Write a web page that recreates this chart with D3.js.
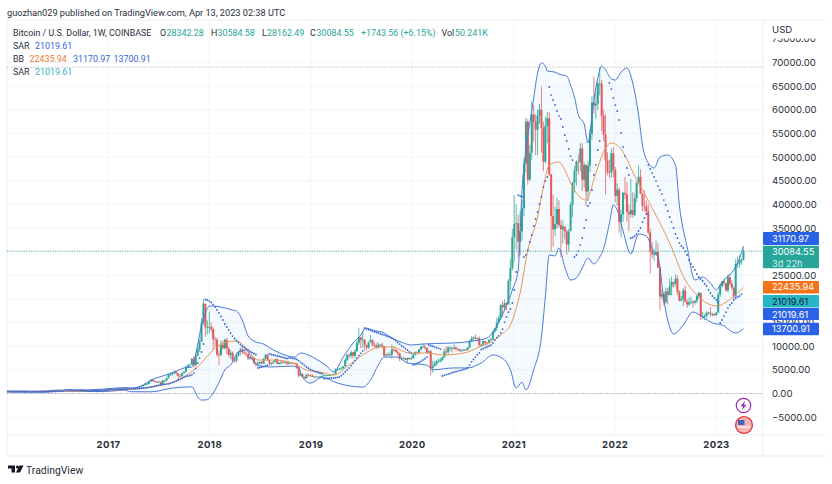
<!DOCTYPE html>
<html>
<head>
<meta charset="utf-8">
<script src="https://cdn.jsdelivr.net/npm/d3@7"></script>
<style>
    html, body { margin: 0; padding: 0; background: #fff; }
    text { font-family: Inter, "Noto Sans", sans-serif; }
    .narrow { font-family: Roboto, "Noto Sans", sans-serif; }
</style>
</head>
<body>
<div id="chart"></div>
<script>
// Weekly candles, values. 2016 wicks are too small to see.
var yearStarts = ["2016-01-04", "2017-01-02", "2018-01-01", "2019-01-07", "2020-01-06", "2021-01-04", "2022-01-03", "2023-01-02"];

var close2016 = [448,382,403,376,375,405,436,430,410,415,413,416,417,419,420,428,445,455,458,445,445,525,575,680,665,640,665,650,665,655,575,585,575,570,605,605,610,608,612,640,635,655,700,705,705,750,735,775,775,790,900,960];
var close2017 = [908,820,920,920,1020,1000,1050,1180,1270,1230,1020,970,1080,1190,1180,1240,1350,1550,1800,2050,2050,2550,2950,2600,2550,2500,2500,1950,2750,2750,3250,4050,4050,4350,4600,4200,3700,3650,4300,4600,5650,6000,6150,7350,5950,8000,9300,11000,15000,19000,14000,14000];
var high2017 = [1020,920,960,930,1030,1060,1060,1200,1290,1330,1250,1070,1090,1210,1210,1270,1360,1620,1830,2140,2260,2700,2990,2980,2800,2620,2650,2420,2850,2900,3350,4200,4400,4400,4980,4680,4350,4100,4390,4700,5850,6200,6250,7450,7880,8300,9800,11400,16000,19890,17500,15500];
var low2017 = [750,760,870,890,910,960,980,1040,1130,980,930,890,920,1050,1110,1180,1240,1340,1500,1700,1830,2000,2450,2500,2300,2250,2300,1750,1950,2400,2600,3200,3700,3800,4100,3950,2950,3400,3660,4200,4500,5400,5400,6050,5500,5900,7900,8800,10900,14500,12000,12500];
var close2018 = [14100,13600,11500,11400,8200,8100,10300,9600,11400,9500,8200,8600,7000,6900,8000,8800,9300,8700,8500,8300,7400,7700,7500,6400,6100,6350,6700,6350,7400,8200,7000,6300,6400,6700,7250,6250,6500,6700,6600,6600,6300,6500,6450,6400,6350,5600,3800,4100,3500,3200,3950,3850,3800];
var high2018 = [17250,15000,14000,12000,11800,9000,11300,11100,11500,11700,9900,9200,8900,7500,8200,8900,9750,9900,9400,8900,8400,7800,7800,7750,6700,6800,6800,6800,7500,8400,8300,7100,6600,7000,7400,7400,6600,6850,6850,6700,6650,6800,6600,6530,6550,6450,5650,4400,4250,3600,4200,4250,4050];
var low2018 = [12750,13000,9200,9900,7800,6000,8000,9300,9250,8300,7700,7300,6600,6500,6600,7800,8100,8300,8300,7900,7100,7050,7100,6150,5750,5800,6200,6050,6300,7300,6900,5900,5900,6300,6650,6200,6100,6100,6350,6350,6100,6200,6350,6300,6300,5200,3400,3650,3400,3100,3150,3600,3550];
var close2019 = [3500,3550,3550,3450,3650,3650,3850,3850,3900,3950,4000,4100,5050,5050,5300,5300,5750,7100,8200,8000,8700,8000,8900,10700,11900,11300,11400,10300,9700,10800,11300,10300,10100,9600,10300,10300,10000,8000,8200,8300,8200,9300,9200,8800,8500,7300,7400,7500,7100,7500,7300,7400];
var high2019 = [4100,3700,3700,3600,3700,3750,4200,3900,3950,4000,4050,4150,5350,5350,5400,5650,5800,7450,8350,8400,9100,8800,9400,11200,13880,12000,13200,11100,10150,11000,12320,11500,10950,10650,10900,10450,10800,10050,8470,8650,8800,10350,9950,9500,9200,8600,7800,7850,7420,7600,7650,7850];
var low2019 = [3470,3400,3450,3400,3350,3550,3580,3700,3650,3730,3850,3900,4050,4900,5000,5050,5300,5600,6700,7400,7500,7450,7600,8900,10300,9600,9600,9100,9100,9350,10900,9950,9800,9350,9600,9850,9600,7700,7900,7850,7850,7350,8900,8650,8000,6800,7000,7200,7000,6400,7150,7150];
var close2020 = [8200,8700,8600,9300,9900,9900,9650,8600,8900,5350,5800,6250,6800,6850,7100,7700,8900,8750,9700,9700,9450,9700,9450,9350,9000,9050,9300,9200,9700,11100,11600,11850,11650,11700,10250,10300,11100,10750,10650,11300,11500,13100,13800,15000,15900,18700,18200,19100,18800,23800,26500,33000];
var high2020 = [8450,8900,8950,9400,9950,10500,10300,9700,9200,9200,6900,6950,7150,7450,7470,7780,9480,10050,9950,10000,9600,10400,9950,9580,9380,9400,9450,9400,9850,11400,12100,12100,12480,11850,12050,10500,11200,11050,10950,11500,11750,13230,13850,15950,16500,18900,19500,19900,19400,24250,28500,34800];
var low2020 = [7500,8000,8300,8250,9100,9700,9300,8450,8400,3850,4400,5700,5850,6500,6550,6800,7500,8100,8200,8900,8650,9350,9000,8900,8800,8900,9050,9050,9050,9650,10950,11150,11250,11100,9850,9850,10200,10150,10150,10550,11200,11350,12800,13200,14800,15500,16200,17600,17600,19000,21800,26000];
var close2021 = [35800,36000,32100,34300,39200,48600,57500,45200,50900,59000,57400,55800,58800,60000,56100,49000,56600,58200,46400,37500,34700,35800,39000,35600,34700,35300,34300,31500,34300,39900,44600,47000,49000,48900,51800,45200,48300,42700,48200,54900,61500,60900,61300,65500,65500,58700,54700,49300,46800,46700,50800,47300];
var high2021 = [41900,40000,37800,38500,40900,49700,58300,58000,52500,61700,61000,59000,60000,61200,64900,57500,58500,59500,59500,45800,42000,39500,41300,40900,36700,36600,35000,34700,34800,40500,44700,48100,49300,50500,52900,52900,48800,48500,49200,56000,62900,67000,63700,66000,69000,66300,60000,59000,51000,49500,51800,52100];
var low2021 = [27700,30400,28800,29200,32300,37500,46700,44100,44900,49300,53300,50400,50400,57000,50900,47000,48700,52900,46000,30000,31100,33300,34900,35100,28800,31700,32600,29300,30000,35800,37300,42500,43900,46300,47000,42800,43500,39600,40700,46900,53700,59200,58000,60000,63000,55500,53300,42000,46100,45500,45600,45700];
var close2022 = [41800,43100,36300,37900,42400,42100,38400,37900,38800,37800,41300,44500,45800,42200,39700,39500,38500,34000,30100,29400,29400,29900,26600,20500,21000,19300,21600,20800,22600,23600,23200,24300,21500,19600,20000,21800,19400,18800,19300,19400,19200,19600,20600,21300,16300,16300,16400,17100,17100,16800,16800,16550];
var high2022 = [47900,44400,43500,38900,42600,45800,44700,40000,45400,42600,42300,44900,48200,47400,42400,42900,40800,40000,34900,32000,30600,32400,31700,26900,22000,21500,22400,22300,24300,24700,23500,25200,25000,21800,20600,22300,22800,19900,20300,20500,19700,19700,21000,21500,21000,17200,16800,17400,17300,18300,17100,16950];
var low2022 = [40500,39700,34000,32900,36300,41100,36300,34300,37200,37200,37500,40500,44200,42200,38500,38500,37700,33700,25400,28600,28000,29300,26600,17600,19900,18600,19000,18900,20800,20700,22400,22600,20800,19500,19600,18500,19300,18100,18500,18900,18200,18800,19100,20000,15500,15800,15500,16000,16700,16300,16350,16300];
var close2023 = [17100,20900,22700,23750,23300,21800,24600,23200,22400,20500,27400,27500,28000,28342.28,30084.55];
var high2023 = [17200,21400,23350,23800,24250,23400,25200,25250,23900,22600,28400,28900,29200,28500,30584.58];
var low2023 = [16500,17300,20400,22500,22800,21500,21400,22800,21950,19600,24900,26600,26600,27200,28162.49];

// Bollinger bands, read at these week numbers (week 0 = 2016-01-04)
var upperWeeks = [0,15,20,26,35,50,58,64,70,74,80,86,91,95,98,100,102,104,106,110,116,118,119,121,124,127,132,137,143,148,151,155,159,165,168,173,178,183,184,190,193,198,204,208,213,220,230,240,247,250,253,256,260,263,265,267,269,271,273,275,277,278,282,284,288,290,292,294,297,299,300,302,304,306,308,311,313,316,319,322,325,327,330,333,336,340,344,346,350,354,358,362,365,367,370,374,377,379];
var upperValues = [500,470,560,720,700,950,1200,1160,1800,2850,3700,4540,5400,5600,10250,14480,17020,18500,18500,18290,17650,17440,17020,15540,12150,11100,10440,9200,8140,7700,8560,8140,7290,5600,4550,7720,10680,13000,13850,13210,13000,11730,10680,10250,10440,10570,10680,11100,11730,13000,15100,17650,21880,26110,43020,51480,57180,62470,67740,69870,69230,68170,67950,67530,67110,65200,62680,58870,56970,52960,55280,62050,66700,69230,68390,66490,66280,67950,68800,65640,58870,52530,48720,47670,49990,50410,48300,39850,30970,23990,24630,23360,21880,22940,24420,26110,28640,31170.97];
var lowerWeeks = [0,20,26,35,50,60,64,74,85,95,98,100,103,105,109,112,115,119,123,126,129,136,146,150,152,156,162,170,176,183,187,191,194,201,206,216,219,230,237,244,250,256,259,262,265,267,271,275,277,279,282,284,287,290,293,296,299,302,305,307,310,312,314,317,321,325,329,333,335,338,340,343,348,353,358,363,368,375,379];
var lowerValues = [300,300,500,450,400,700,380,350,1150,1400,-700,-1400,-1300,-500,2300,5000,6020,8800,9200,7300,5900,5600,5800,5400,3400,2200,3400,2200,1600,1350,2850,6000,7700,7700,6450,6000,5000,5400,5400,6450,8140,7100,5000,1150,2400,750,5000,12050,20400,29280,29070,30760,26740,23990,24420,26530,28640,27380,28860,30600,36000,39850,38800,34350,29500,33720,33300,29700,28860,19770,15540,12580,14480,17230,16170,14900,14480,12790,13700.91];
var basisWeeks = [0,30,50,63,80,90,99,106,113,118,123,129,137,147,154,161,168,176,183,192,198,207,216,224,235,243,254,259,264,268,273,276,279,284,287,291,298,303,308,311,317,322,329,336,341,349,355,365,373,379];
var basisValues = [430,500,650,900,1800,3280,6020,9200,10880,11100,9620,7080,7080,6450,4970,4550,3910,6020,8140,9830,9830,8560,8560,8140,8560,9830,12370,14480,21250,30340,37310,43650,48300,48930,47250,43650,40900,46610,51900,52960,51060,46820,41540,36040,31810,23990,20820,18500,20190,22435.94];

// Parabolic SAR runs: first week number, then one value per week
var sarRunStarts = [0,11,30,41,52,102,129,135,163,184,209,217,224,254,263,266,279,292,310,321,330,367];
var sarRuns = [
    [470,465,460,455,450,445,440,436,432,428,425],
    [370,372,375,378,382,385,388,390,395,400,405,410,420,430,440,450,470,500,540],
    [780,770,760,750,740,730,720,710,700,690,680],
    [560,565,570,575,585,595,605,620,640,680,720],
    [780,800,820,840,860,880,900,920,940,960,980,1000,1010,1020,1030,1040,1060,1090,1130,1170,1230,1300,1380,1460,1550,1650,1750,1850,1900,1950,2000,2050,2150,2300,2450,2650,2850,3050,3250,3450,3600,3700,3800,3950,4300,5300,6450,7500,8770,10460],
    [19870,19770,19550,19240,18810,18290,17650,17020,16280,15540,14690,14060,13420,12790,12150,11630,11200,10780,10360,10040,9720,9410,9200,8880,8670,8460,8240],
    [5400,5500,5600,5700,5810,6020],
    [8350,8250,8150,8050,7930,7830,7720,7620,7510,7400,7550,7500,7450,7350,7200,6950,6600,6300,5950,5600,5350,5100,4900,4750,4600,4450,4300,4200],
    [3150,3180,3200,3230,3260,3300,3340,3400,3500,3800,4150,4550,4970,5400,5900,6400,6950,7500,8000,8500,9000],
    [13800,13650,13500,13350,13200,13050,12950,12800,12650,12500,12350,12200,12050,11900,11700,11450,11150,10800,10450,10100,9800,9450,9150,8800,8500],
    [6050,6200,6400,6550,6800,7100,7350,7700],
    [10250,10100,10000,9850,9700,9550,9400],
    [3700,3850,4000,4100,4250,4400,4500,4650,4750,4850,4950,5100,5200,5400,6000,6700,7200,7700,8200,8600,9300,9500,9700,9850,10000,10250,10700,11300,11800,12200],
    [12800,13630,15100,16170,17200,17860,19130,21880,25690],
    [41960,41750,41550],
    [28860,29280,30340,32030,33510,35410,36890,38370,40060,41540,43650,44920,45770],
    [64800,63100,62050,61000,59720,58660,58030,56340,54650,53380,51690,50200,49360],
    [28860,29280,30120,31390,32870,34990,36680,39640,40270,43020,46190,48300,51480,53380],
    [65640,64370,62470,60980,59720,57820,55070,52110,50200,47670,46190],
    [32870,32980,33300,33720,34350,34990,36250,37100,37950],
    [48300,47460,46610,45770,44920,43860,43020,42170,40900,39850,38580,37310,36250,34990,33720,32870,31810,31180,30760,30120,29280,28220,27380,26740,26110,25260,24630,24200,23780,23150,22730,21880,21250,20610,20190,19770,19340],
    [14900,15540,16360,17200,18050,18710,19130,19770,20190,20400,20610,21019.61]
];

// 20000 and 30000 sit fully behind the price tags in the picture, so they are not listed
var gridTicks = [-5000,0,5000,10000,15000,20000,25000,30000,35000,40000,45000,50000,55000,60000,65000,70000];
var priceTicks = [-5000,0,5000,10000,15000,25000,35000,40000,45000,50000,55000,60000,65000,70000,75000];
var yearTicks = ["2017-01-01","2018-01-01","2019-01-01","2020-01-01","2021-01-01","2022-01-01","2023-01-01"];
var allTimeHigh = 69000;
var lastClose = 30084.55;

var tagLabels = ["31170.97", "30084.55", "22435.94", "21019.61", "21019.61", "13700.91"];
var tagValues = [31170.97, 30084.55, 22435.94, 21019.61, 21019.61, 13700.91];

var upColor = "#2aa596";
var downColor = "#e35a5a";
var bandColor = "#4a78d8";
var basisColor = "#ee9550";
var sarColor = "#3566d6";

function init() {

    var width = 832;
    var height = 484;
    var chartLeft = 7;
    var chartRight = 763;
    var chartTop = 21;
    var chartBottom = 435;
    var outerBottom = 456;

    var parse = d3.utcParse("%Y-%m-%d");
    var week0 = parse("2016-01-04");

    var x = d3.scaleUtc()
        .domain([parse("2017-01-01"), parse("2023-01-01")])
        .range([108, 716]);

    var y = d3.scaleLinear()
        .domain([0, 70000])
        .range([393.5, 62.4]);

    function weekX(w) {
        return x(d3.utcWeek.offset(week0, w));
    }

    // Build the candles year by year
    var closes = [close2016, close2017, close2018, close2019, close2020, close2021, close2022, close2023];
    var highs = [null, high2017, high2018, high2019, high2020, high2021, high2022, high2023];
    var lows = [null, low2017, low2018, low2019, low2020, low2021, low2022, low2023];
    var candles = [];
    var prev = 430;
    closes.forEach(function (list, yi) {
        var start = parse(yearStarts[yi]);
        list.forEach(function (c, i) {
            var isLast = yi === 7 && i === list.length - 1;
            var o = isLast ? 28342.28 : prev;
            candles.push({
                date: d3.utcWeek.offset(start, i),
                open: o,
                close: c,
                high: highs[yi] ? highs[yi][i] : Math.max(o, c),
                low: lows[yi] ? lows[yi][i] : Math.min(o, c)
            });
            prev = c;
        });
    });

    var svg = d3.select("#chart")
        .append("svg")
        .attr("width", width)
        .attr("height", height)
        .style("display", "block");

    svg.append("text")
        .attr("class", "narrow")
        .attr("x", 7)
        .attr("y", 15.5)
        .attr("font-size", 9.2)
        .attr("fill", "#2a2e39")
        .text("guozhan029 published on TradingView.com, Apr 13, 2023 02:38 UTC");

    svg.append("defs").append("clipPath")
        .attr("id", "plot-clip")
        .append("rect")
        .attr("x", chartLeft)
        .attr("y", chartTop)
        .attr("width", chartRight - chartLeft)
        .attr("height", chartBottom - chartTop);

    // Grid
    var grid = svg.append("g").attr("stroke", "#f1f3f7").attr("stroke-width", 0.8);
    gridTicks.forEach(function (t) {
        grid.append("line")
            .attr("x1", chartLeft).attr("x2", chartRight)
            .attr("y1", y(t)).attr("y2", y(t));
    });
    yearTicks.forEach(function (t) {
        grid.append("line")
            .attr("x1", x(parse(t))).attr("x2", x(parse(t)))
            .attr("y1", chartTop).attr("y2", chartBottom);
    });

    // Outer frame
    var frame = svg.append("g").attr("stroke", "#e6e8ee").attr("stroke-width", 0.8);
    frame.append("line").attr("x1", chartLeft).attr("x2", 826).attr("y1", chartTop - 1).attr("y2", chartTop - 1);
    frame.append("line").attr("x1", chartLeft).attr("x2", 826).attr("y1", outerBottom).attr("y2", outerBottom);
    frame.append("line").attr("x1", chartLeft).attr("x2", chartLeft).attr("y1", chartTop - 1).attr("y2", outerBottom);
    frame.append("line").attr("x1", chartLeft).attr("x2", 826).attr("y1", chartBottom).attr("y2", chartBottom);
    frame.append("line").attr("x1", chartRight).attr("x2", chartRight).attr("y1", chartTop - 1).attr("y2", outerBottom);

    var plot = svg.append("g").attr("clip-path", "url(#plot-clip)");

    // Band fill between the upper and lower lines
    var bandLine = d3.line()
        .x(function (d) { return weekX(d.w); })
        .y(function (d) { return y(d.v); })
        .curve(d3.curveMonotoneX);

    var upper = upperWeeks.map(function (w, i) { return { w: w, v: upperValues[i] }; });
    var lower = lowerWeeks.map(function (w, i) { return { w: w, v: lowerValues[i] }; });
    var basis = basisWeeks.map(function (w, i) { return { w: w, v: basisValues[i] }; });

    plot.append("path")
        .attr("d", bandLine(upper) + "L" + bandLine(lower.slice().reverse()).slice(1) + "Z")
        .attr("fill", "#2196f3")
        .attr("fill-opacity", 0.05);

    // Dotted reference lines
    [[allTimeHigh, "#a9adb6"], [0, "#8f939c"], [lastClose, upColor]].forEach(function (d) {
        plot.append("line")
            .attr("x1", chartLeft).attr("x2", chartRight)
            .attr("y1", y(d[0])).attr("y2", y(d[0]))
            .attr("stroke", d[1])
            .attr("stroke-width", 0.9)
            .attr("stroke-dasharray", "1 1.4");
    });

    // Candles
    plot.selectAll(".wick")
        .data(candles)
        .enter()
        .append("line")
        .attr("class", "wick")
        .attr("x1", function (d) { return x(d.date); })
        .attr("x2", function (d) { return x(d.date); })
        .attr("y1", function (d) { return y(d.high); })
        .attr("y2", function (d) { return y(d.low); })
        .attr("stroke", function (d) { return d.close >= d.open ? upColor : downColor; })
        .attr("stroke-opacity", 0.75)
        .attr("stroke-width", 1);

    plot.selectAll(".body")
        .data(candles)
        .enter()
        .append("rect")
        .attr("class", "body")
        .attr("x", function (d) { return x(d.date) - 1; })
        .attr("width", 2)
        .attr("y", function (d) { return y(Math.max(d.open, d.close)); })
        .attr("height", function (d) { return Math.max(0.8, Math.abs(y(d.open) - y(d.close))); })
        .attr("fill", function (d) { return d.close >= d.open ? upColor : downColor; });

    // Band lines
    [upper, lower].forEach(function (band) {
        plot.append("path")
            .attr("d", bandLine(band))
            .attr("fill", "none")
            .attr("stroke", bandColor)
            .attr("stroke-width", 1);
    });
    plot.append("path")
        .attr("d", bandLine(basis))
        .attr("fill", "none")
        .attr("stroke", basisColor)
        .attr("stroke-width", 1);

    // SAR dots
    sarRuns.forEach(function (run, r) {
        plot.selectAll(".sar" + r)
            .data(run)
            .enter()
            .append("circle")
            .attr("class", "sar" + r)
            .attr("cx", function (d, i) { return weekX(sarRunStarts[r] + i); })
            .attr("cy", function (d) { return y(d); })
            .attr("r", 0.9)
            .attr("fill", sarColor);
    });

    // Price axis
    var yAxis = d3.axisRight(y)
        .tickValues(priceTicks)
        .tickSize(0)
        .tickPadding(9)
        .tickFormat(function (d) { return (d < 0 ? "\u2212" : "") + Math.abs(d).toFixed(2); });

    var yAxisG = svg.append("g")
        .attr("transform", "translate(" + chartRight + ",0)")
        .call(yAxis);
    yAxisG.select(".domain").remove();
    yAxisG.selectAll("text")
        .attr("font-family", null)
        .attr("font-size", 9.6)
        .attr("fill", "#2a2e39");

    // The top tick is cut off under the USD header
    svg.append("rect")
        .attr("x", chartRight + 1).attr("y", chartTop)
        .attr("width", 60).attr("height", 17.5)
        .attr("fill", "#fff");
    svg.append("text")
        .attr("x", 772).attr("y", 33)
        .attr("font-size", 9.6)
        .attr("fill", "#2a2e39")
        .text("USD");

    // Time axis
    var xAxis = d3.axisBottom(x)
        .tickValues(yearTicks.map(parse))
        .tickSize(0)
        .tickPadding(6)
        .tickFormat(d3.utcFormat("%Y"));

    var xAxisG = svg.append("g")
        .attr("transform", "translate(0," + chartBottom + ")")
        .call(xAxis);
    xAxisG.select(".domain").remove();
    xAxisG.selectAll("text")
        .attr("font-family", null)
        .attr("font-size", 9.6)
        .attr("font-weight", 700)
        .attr("letter-spacing", 0.4)
        .attr("fill", "#2a2e39");

    // Price tags on the axis
    var tagBoxes = [
        { top: y(tagValues[0]) - 14, h: 13, fill: "#2962e8", color: "#fff" },
        { top: y(tagValues[1]) - 5.5, h: 22.5, fill: "#26a69a", color: "#fff" },
        { top: y(tagValues[2]) - 6.5, h: 12.5, fill: "#f5731a", color: "#fff" },
        { top: y(tagValues[3]) + 1, h: 12.5, fill: "#26b6c6", color: "#1c2030" },
        { top: y(tagValues[4]) + 14, h: 12, fill: "#2962e8", color: "#fff" },
        { top: y(tagValues[5]) - 6, h: 12.5, fill: "#2962e8", color: "#fff" }
    ];
    tagBoxes.forEach(function (t, i) {
        svg.append("rect")
            .attr("x", chartRight).attr("y", t.top)
            .attr("width", 56).attr("height", t.h)
            .attr("rx", 1)
            .attr("fill", t.fill);
        svg.append("text")
            .attr("x", 772).attr("y", t.top + 9.6)
            .attr("font-size", 9.2)
            .attr("fill", t.color)
            .text(tagLabels[i]);
    });
    svg.append("text")
        .attr("x", 772).attr("y", y(tagValues[1]) + 15.5)
        .attr("font-size", 9.2)
        .attr("fill", "#d5f0ec")
        .text("3d 22h");

    // Legend rows
    var legendRows = [
        [["Bitcoin / U.S. Dollar, 1W, COINBASE", "#2a2e39", 13], ["O", "#2a2e39", 160], ["28342.28", upColor, 166.5],
         ["H", "#2a2e39", 211], ["30584.58", upColor, 217.5], ["L", "#2a2e39", 262], ["28162.49", upColor, 267],
         ["C", "#2a2e39", 310], ["30084.55", upColor, 316.5], ["+1743.56 (+6.15%)", upColor, 361],
         ["Vol", "#2a2e39", 441.5], ["50.241K", upColor, 455]],
        [["SAR", "#2a2e39", 13], ["21019.61", "#3566d6", 35]],
        [["BB", "#2a2e39", 13], ["22435.94", "#ea7b2c", 29.5], ["31170.97", "#3566d6", 73], ["13700.91", "#3566d6", 113.5]],
        [["SAR", "#2a2e39", 13], ["21019.61", "#2cb4c4", 35]]
    ];
    legendRows.forEach(function (row, r) {
        row.forEach(function (cell) {
            svg.append("text")
                .attr("class", "narrow")
                .attr("x", cell[2])
                .attr("y", 36 + r * 13)
                .attr("font-size", 8.9)
                .attr("fill", cell[1])
                .text(cell[0]);
        });
    });

    // Small badges by the last bar
    var bolt = svg.append("g").attr("transform", "translate(743.5,405.5)");
    bolt.append("circle").attr("r", 7.2).attr("fill", "#fff").attr("stroke", "#9c27b0").attr("stroke-width", 1.2);
    bolt.append("path").attr("d", "M1.5,-4.5 L-3,0.8 L-0.5,0.8 L-1.5,4.5 L3,-0.8 L0.5,-0.8 Z").attr("fill", "#9c27b0");

    var flag = svg.append("g").attr("transform", "translate(744,425)");
    flag.append("circle").attr("r", 8.4).attr("fill", "#f4b5b5").attr("stroke", "#e5393b").attr("stroke-width", 1.4);
    flag.append("rect").attr("x", -6).attr("y", -5).attr("width", 6.5).attr("height", 5).attr("fill", "#4a63b5");
    flag.append("rect").attr("x", -6.5).attr("y", 1.5).attr("width", 13).attr("height", 1.2).attr("fill", "#fff");

    // TradingView logo
    var logo = svg.append("g").attr("fill", "#131722");
    logo.append("path").attr("d", "M8,465.5 H15 V472.5 H11.5 V468.5 H8 Z");
    logo.append("circle").attr("cx", 17.4).attr("cy", 467).attr("r", 1.5);
    logo.append("path").attr("d", "M19.5,465.5 H23.5 L20,472.5 H16 Z");
    svg.append("text")
        .attr("class", "narrow")
        .attr("x", 26)
        .attr("y", 473.5)
        .attr("font-size", 10.4)
        .attr("fill", "#2a2e39")
        .text("TradingView");
}

window.onload = init;
</script>
</body>
</html>
